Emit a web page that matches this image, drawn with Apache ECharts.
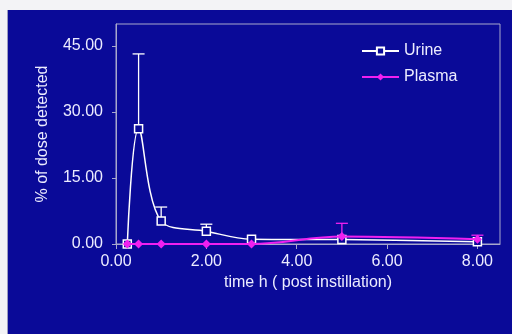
<!DOCTYPE html>
<html>
<head>
<meta charset="utf-8">
<script src="https://cdn.jsdelivr.net/npm/echarts@6/dist/echarts.min.js"></script>
<style>
  html, body { margin: 0; padding: 0; background: #f3f3f6; }
  #chart { position: absolute; left: 7px; top: 10px; width: 505px; height: 324px;
           background: #0a0a98; border-left: 1px solid #9c9cc0; box-sizing: border-box; }
</style>
</head>
<body>
<div id="chart"></div>
<script>
// sampling times (h) and % of dose detected
var times = [0.25, 0.5, 1, 2, 3, 5, 8];
var urine = [0, 26.2, 5.2, 2.9, 1.1, 1.0, 0.5];
var urineTop = [null, 43.2, 8.4, 4.5, null, null, null];   // error bar tops
var plasma = [0, 0, 0, 0, 0, 1.7, 1.1];
var plasmaTop = [null, null, null, null, null, 4.7, 2.0];
var xTicks = [0, 2, 4, 6, 8];
var yTicks = [0, 15, 30, 45];

var txt = '#ececff';
var axisCol = '#a8a8cc';
var magenta = '#f020f0';

function pairs(ys) {
  return times.map(function (t, i) { return [t, ys[i]]; });
}
function errData(ys, tops) {
  var out = [];
  for (var i = 0; i < times.length; i++) {
    if (tops[i] != null) out.push([times[i], ys[i], tops[i]]);
  }
  return out;
}
function errRender(color) {
  return function (params, api) {
    var lo = api.coord([api.value(0), api.value(1)]);
    var hi = api.coord([api.value(0), api.value(2)]);
    var half = 6;
    return {
      type: 'group',
      children: [
        { type: 'line', shape: { x1: lo[0], y1: lo[1], x2: hi[0], y2: hi[1] },
          style: { stroke: color, lineWidth: 1.3 } },
        { type: 'line', shape: { x1: hi[0] - half, y1: hi[1], x2: hi[0] + half, y2: hi[1] },
          style: { stroke: color, lineWidth: 1.3 } }
      ]
    };
  };
}

var chart = echarts.init(document.getElementById('chart'));
var option = {
  backgroundColor: 'transparent',
  animation: false,
  textStyle: { fontFamily: 'Liberation Sans, Arial, sans-serif' },
  grid: {
    left: 108, top: 14, right: 12, bottom: 90,
    show: true, borderColor: axisCol, borderWidth: 1, backgroundColor: 'transparent'
  },
  legend: {
    orient: 'vertical',
    left: 348, top: 28,
    itemWidth: 37, itemHeight: 9, itemGap: 10,
    textStyle: { color: txt, fontSize: 16 },
    data: ['Urine', 'Plasma']
  },
  xAxis: {
    type: 'value', min: 0, max: 8.5, interval: 2,
    name: 'time h ( post instillation)', nameLocation: 'middle', nameGap: 30,
    nameTextStyle: { color: txt, fontSize: 16 },
    axisLine: { lineStyle: { color: axisCol } },
    axisTick: { show: true, length: 5, customValues: xTicks, lineStyle: { color: axisCol } },
    axisLabel: { color: txt, fontSize: 16, margin: 10, customValues: xTicks,
      formatter: function (v) { return v > 8 ? '' : v.toFixed(2); } },
    splitLine: { show: false }
  },
  yAxis: {
    type: 'value', min: 0, max: 50, interval: 15,
    name: '% of dose detected', nameLocation: 'middle', nameGap: 65,
    nameTextStyle: { color: txt, fontSize: 16 },
    axisLine: { show: true, lineStyle: { color: axisCol } },
    axisTick: { show: true, length: 4, customValues: yTicks, lineStyle: { color: axisCol } },
    axisLabel: { color: txt, fontSize: 16, margin: 13, customValues: yTicks,
      formatter: function (v) { return v > 45 ? '' : v.toFixed(2); } },
    splitLine: { show: false }
  },
  series: [
    {
      name: 'Urine', type: 'line', data: pairs(urine), smooth: 0.35,
      symbol: 'rect', symbolSize: 8,
      lineStyle: { color: '#ffffff', width: 1.5 },
      itemStyle: { color: '#0a0a98', borderColor: '#ffffff', borderWidth: 1.5 },
      z: 2
    },
    {
      name: 'Urine err', type: 'custom', renderItem: errRender('#ffffff'),
      data: errData(urine, urineTop), z: 1
    },
    {
      name: 'Plasma', type: 'line', data: pairs(plasma), smooth: 0.35,
      symbol: 'diamond', symbolSize: 9,
      lineStyle: { color: magenta, width: 2 },
      itemStyle: { color: magenta },
      z: 4
    },
    {
      name: 'Plasma err', type: 'custom', renderItem: errRender(magenta),
      data: errData(plasma, plasmaTop), z: 3
    }
  ]
};
chart.setOption(option);
</script>
</body>
</html>
